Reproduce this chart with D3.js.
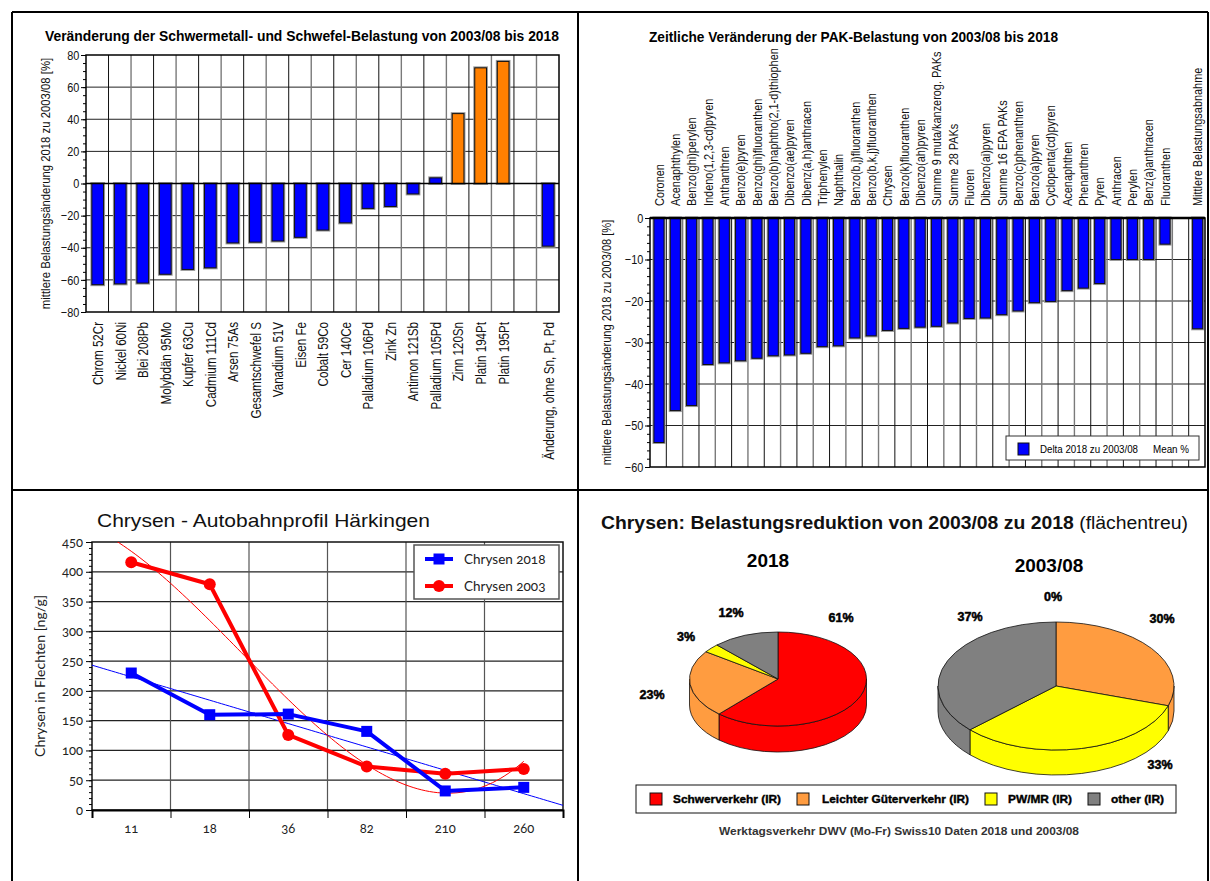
<!DOCTYPE html>
<html>
<head>
<meta charset="utf-8">
<script src="https://cdn.jsdelivr.net/npm/d3@7"></script>
<style>
  body { margin: 0; background: #fff; }
  svg { display: block; }
</style>
</head>
<body>
<div id="chart"></div>
<script>
// ---- data ----
const metalNames = ["Chrom 52Cr", "Nickel 60Ni", "Blei 208Pb", "Molybdän 95Mo", "Kupfer 63Cu",
  "Cadmium 111Cd", "Arsen 75As", "Gesamtschwefel S", "Vanadium 51V", "Eisen Fe", "Cobalt 59Co",
  "Cer 140Ce", "Palladium 106Pd", "Zink Zn", "Antimon 121Sb", "Palladium 105Pd", "Zinn 120Sn",
  "Platin 194Pt", "Platin 195Pt", "", "Änderung, ohne Sn, Pt, Pd"];
const metalValues = [-63, -62.5, -62, -56.5, -53.5, -52.5, -37, -36.5, -35.8, -33.5, -29,
  -24.5, -15.5, -14.3, -6.5, 3.5, 43.5, 72, 76, null, -39];
const metalIncrease = ["Zinn 120Sn", "Platin 194Pt", "Platin 195Pt"];
const metalTicks = [-80, -60, -40, -20, 0, 20, 40, 60, 80];

const pakNames = ["Coronen", "Acenaphthylen", "Benzo(ghi)perylen", "Indeno(1,2,3-cd)pyren",
  "Anthanthren", "Benzo(e)pyren", "Benzo(ghi)fluoranthen", "Benzo(b)naphtho(2,1-d)thiophen",
  "Dibenzo(ae)pyren", "Dibenz(a,h)anthracen", "Triphenylen", "Naphthalin",
  "Benzo(b,j)fluoranthen", "Benzo(b,k,j)fluoranthen", "Chrysen", "Benzo(k)fluoranthen",
  "Dibenzo(ah)pyren", "Summe 9 muta/kanzerog. PAKs", "Summe 28 PAKs", "Fluoren",
  "Dibenzo(ai)pyren", "Summe 16 EPA PAKs", "Benzo(c)phenanthren", "Benzo(a)pyren",
  "Cyclopenta(cd)pyren", "Acenaphthen", "Phenanthren", "Pyren", "Anthracen", "Perylen",
  "Benz(a)anthracen", "Fluoranthen", "", "Mittlere Belastungsabnahme"];
const pakValues = [-54.1, -46.4, -45.2, -35.3, -34.9, -34.4, -33.8, -33.2, -33.0, -32.6,
  -31.0, -30.8, -28.9, -28.4, -27.1, -26.6, -26.3, -26.1, -25.3, -24.2, -24.1, -23.3,
  -22.4, -20.4, -20.1, -17.5, -16.9, -15.8, -10.0, -10.0, -10.0, -6.3, null, -26.7];
const pakTicks = [-60, -50, -40, -30, -20, -10, 0];

const sites = ["11", "18", "36", "82", "210", "260"];
const chrysen2018 = [230, 160, 161, 132, 32, 38];
const chrysen2003 = [416, 379, 126, 73, 61, 69];
const chrysenTicks = [0, 50, 100, 150, 200, 250, 300, 350, 400, 450];

const trafficCats = ["Schwerverkehr (IR)", "Leichter Güterverkehr (IR)", "PW/MR (IR)", "other (IR)"];
const traffic2018 = [61, 23, 3, 12];
const traffic2003 = [0, 30, 33, 37];
const trafficColors = ["#ff0000", "#ff9c40", "#ffff00", "#808080"];

// ---- setup ----
const width = 1210, height = 881;
const SANS = '"Liberation Sans",Arial,sans-serif';
const HUM = 'Lato,"Open Sans",sans-serif';
const NX = 0.84; // horizontal squeeze to imitate Arial Narrow

let svg = d3.select('#chart')
  .append('svg')
  .attr('width', width)
  .attr('height', height)
  .style('background', 'white');

// panel frame
[[12, 12, 1208, 12], [12, 490, 1208, 490], [12, 12, 12, 881], [578, 12, 578, 881], [1208, 12, 1208, 881]]
  .forEach(l => svg.append('line')
    .attr('x1', l[0]).attr('y1', l[1]).attr('x2', l[2]).attr('y2', l[3])
    .attr('stroke', 'black').attr('stroke-width', 2));

// helper for the two category bar charts
function barPanel(opt) {
  let g = svg.append('g');
  let x = d3.scaleBand().domain(d3.range(opt.names.length)).range([opt.left, opt.right]);
  let y = d3.scaleLinear().domain(opt.domain).range([opt.bottom, opt.top]);
  let bw = x.bandwidth();

  // horizontal grid
  g.selectAll('.hg').data(opt.ticks.filter(t => t !== opt.domain[0] && t !== opt.domain[1] && t !== 0))
    .enter().append('line')
    .attr('x1', opt.left).attr('x2', opt.right)
    .attr('y1', d => y(d)).attr('y2', d => y(d))
    .attr('stroke', '#222').attr('stroke-width', 1);

  // vertical grid at category boundaries
  g.selectAll('.vg').data(d3.range(1, opt.names.length))
    .enter().append('line')
    .attr('x1', d => x(d)).attr('x2', d => x(d))
    .attr('y1', opt.top).attr('y2', opt.bottom)
    .attr('stroke', d => d % 2 ? '#111' : '#7a7a7a')
    .attr('stroke-width', d => d % 2 ? 1 : 1.4);

  let data = opt.values.map((v, i) => ({ i, v, name: opt.names[i] })).filter(d => d.v !== null);

  g.selectAll('.shadow').data(data).enter().append('rect')
    .attr('x', d => x(d.i) + bw * opt.off)
    .attr('y', d => y(Math.max(0, d.v)))
    .attr('width', bw * opt.bar)
    .attr('height', d => Math.abs(y(d.v) - y(0)))
    .attr('fill', 'none').attr('stroke', '#9a9a9a').attr('stroke-width', 3);

  g.selectAll('.bar').data(data).enter().append('rect')
    .attr('x', d => x(d.i) + bw * opt.off)
    .attr('y', d => y(Math.max(0, d.v)))
    .attr('width', bw * opt.bar)
    .attr('height', d => Math.abs(y(d.v) - y(0)))
    .attr('fill', d => opt.color(d))
    .attr('stroke', '#111').attr('stroke-width', 1);

  // zero line + frame
  g.append('line').attr('x1', opt.left).attr('x2', opt.right)
    .attr('y1', y(0)).attr('y2', y(0)).attr('stroke', 'black').attr('stroke-width', opt.zeroW);
  g.append('rect').attr('x', opt.left).attr('y', opt.top)
    .attr('width', opt.right - opt.left).attr('height', opt.bottom - opt.top)
    .attr('fill', 'none').attr('stroke', 'black').attr('stroke-width', 1.5);

  // y axis: major + minor ticks
  let ax = g.append('g').attr('transform', `translate(${opt.left},0)`)
    .call(d3.axisLeft(y).tickValues(opt.ticks).tickSize(5).tickPadding(3));
  ax.select('.domain').remove();
  ax.selectAll('text')
    .attr('transform', `scale(${NX},1)`)
    .style('font-family', SANS).style('font-size', '13px').attr('fill', '#111');
  let minor = d3.range(opt.domain[0], opt.domain[1] + 0.001, opt.minor);
  let mx = g.append('g').attr('transform', `translate(${opt.left},0)`)
    .call(d3.axisLeft(y).tickValues(minor).tickSize(3).tickFormat(''));
  mx.select('.domain').remove();

  // category labels, rotated
  g.selectAll('.cl').data(opt.names.map((n, i) => ({ n, i })).filter(d => d.n))
    .enter().append('text')
    .text(d => d.n)
    .attr('transform', d => `translate(${x(d.i) + bw / 2 + 1},${opt.labelY}) rotate(-90) scale(${NX},1)`)
    .attr('text-anchor', opt.labelAnchor)
    .attr('dy', '0.35em')
    .style('font-family', SANS).style('font-size', opt.labelSize).attr('fill', '#111');

  // y title
  g.append('text').text(opt.yTitle)
    .attr('transform', `translate(${opt.yTitleX},${(opt.top + opt.bottom) / 2}) rotate(-90) scale(${NX},1)`)
    .attr('text-anchor', 'middle').attr('dy', '0.35em')
    .style('font-family', SANS).style('font-size', opt.yTitleSize).attr('fill', '#111');

  // title
  g.append('text').text(opt.title)
    .attr('x', opt.titleX).attr('y', opt.titleY)
    .attr('text-anchor', opt.titleAnchor)
    .attr('textLength', opt.titleLen).attr('lengthAdjust', 'spacingAndGlyphs')
    .style('font-family', SANS).style('font-size', '15px').style('font-weight', 'bold');
  return { g, x, y };
}

// ---- panel 1: Schwermetalle ----
barPanel({
  names: metalNames, values: metalValues, ticks: metalTicks, domain: [-80, 80], minor: 5,
  left: 86, right: 559, top: 55, bottom: 312, bar: 0.52, off: 0.26, zeroW: 1.5,
  color: d => metalIncrease.includes(d.name) ? '#ff8000' : '#0000ff',
  labelY: 322, labelAnchor: 'end', labelSize: '13.8px',
  yTitle: 'mittlere Belastungsänderung 2018 zu 2003/08 [%]', yTitleX: 45, yTitleSize: '13.5px',
  title: 'Veränderung der Schwermetall- und Schwefel-Belastung von 2003/08 bis 2018',
  titleX: 302, titleY: 41, titleAnchor: 'middle', titleLen: 514
});

// ---- panel 2: PAK ----
barPanel({
  names: pakNames, values: pakValues, ticks: pakTicks, domain: [-60, 0], minor: 2,
  left: 650, right: 1205, top: 218, bottom: 467, bar: 0.62, off: 0.24, zeroW: 2.5,
  color: () => '#0000ff',
  labelY: 206, labelAnchor: 'start', labelSize: '13px',
  yTitle: 'mittlere Belastungsänderung 2018 zu 2003/08 [%]', yTitleX: 606, yTitleSize: '13.2px',
  title: 'Zeitliche Veränderung der PAK-Belastung von 2003/08 bis 2018',
  titleX: 649, titleY: 42, titleAnchor: 'start', titleLen: 409
});

// legend panel 2
let lg2 = svg.append('g');
lg2.append('rect').attr('x', 1006).attr('y', 436).attr('width', 193).attr('height', 24)
  .attr('fill', 'white').attr('stroke', '#333').attr('stroke-width', 1);
lg2.append('rect').attr('x', 1018).attr('y', 443).attr('width', 11).attr('height', 12)
  .attr('fill', '#0000ff').attr('stroke', '#111');
lg2.append('text').text('Delta 2018 zu 2003/08').attr('x', 1040).attr('y', 453)
  .attr('textLength', 98).attr('lengthAdjust', 'spacingAndGlyphs')
  .style('font-family', SANS).style('font-size', '11.5px');
lg2.append('text').text('Mean %').attr('x', 1153).attr('y', 453)
  .attr('textLength', 36).attr('lengthAdjust', 'spacingAndGlyphs')
  .style('font-family', SANS).style('font-size', '11.5px');

// ---- panel 3: Chrysen Autobahnprofil ----
let p3 = { left: 92, right: 563, top: 542, bottom: 810 };
let g3 = svg.append('g');
let x3 = d3.scaleBand().domain(sites).range([p3.left, p3.right]);
let xi = d3.scaleLinear().domain([0.5, sites.length + 0.5]).range([p3.left, p3.right]);
let y3 = d3.scaleLinear().domain([0, 450]).range([p3.bottom, p3.top]);

g3.selectAll('.hg').data(chrysenTicks.filter(t => t > 0 && t < 450)).enter().append('line')
  .attr('x1', p3.left).attr('x2', p3.right).attr('y1', d => y3(d)).attr('y2', d => y3(d))
  .attr('stroke', '#222').attr('stroke-width', 1.2);
g3.selectAll('.vg').data(d3.range(1, sites.length)).enter().append('line')
  .attr('x1', d => xi(d + 0.5)).attr('x2', d => xi(d + 0.5))
  .attr('y1', p3.top).attr('y2', p3.bottom)
  .attr('stroke', '#555').attr('stroke-width', 1.2);
g3.append('rect').attr('x', p3.left).attr('y', p3.top)
  .attr('width', p3.right - p3.left).attr('height', p3.bottom - p3.top)
  .attr('fill', 'none').attr('stroke', '#111').attr('stroke-width', 1.5);

let ay3 = g3.append('g').attr('transform', `translate(${p3.left},0)`)
  .call(d3.axisLeft(y3).tickValues(chrysenTicks).tickSize(6).tickPadding(3));
ay3.select('.domain').remove();
ay3.selectAll('text').style('font-family', HUM).style('font-size', '13px')
  .style('font-variant-numeric', 'oldstyle-nums').attr('fill', '#222');
let my3 = g3.append('g').attr('transform', `translate(${p3.left},0)`)
  .call(d3.axisLeft(y3).tickValues(d3.range(0, 451, 10)).tickSize(3).tickFormat(''));
my3.select('.domain').remove();

let ax3 = g3.append('g').attr('transform', `translate(0,${p3.bottom})`)
  .call(d3.axisBottom(xi).tickValues(d3.range(0.5, sites.length + 1)).tickSize(8).tickFormat(''));
ax3.select('.domain').attr('stroke-width', 2);
let axl3 = g3.append('g').attr('transform', `translate(0,${p3.bottom})`)
  .call(d3.axisBottom(x3).tickSize(0).tickPadding(14));
axl3.select('.domain').remove();
axl3.selectAll('text').style('font-family', HUM).style('font-size', '13px')
  .style('font-variant-numeric', 'oldstyle-nums').attr('fill', '#222');

g3.append('text').text('Chrysen in Flechten [ng/g]')
  .attr('transform', `translate(40,${(p3.top + p3.bottom) / 2}) rotate(-90)`)
  .attr('text-anchor', 'middle').attr('dy', '0.35em')
  .style('font-family', HUM).style('font-size', '14px').attr('fill', '#222');
g3.append('text').text('Chrysen - Autobahnprofil Härkingen')
  .attr('x', 97).attr('y', 527).attr('textLength', 333).attr('lengthAdjust', 'spacingAndGlyphs')
  .style('font-family', SANS).style('font-size', '19px').attr('fill', '#111');

// least squares polynomial fit (trend lines like the spreadsheet)
function polyfit(xs, ys, deg) {
  let n = deg + 1;
  let A = d3.range(n).map(r => d3.range(n + 1).map(c => 0));
  xs.forEach((xv, k) => {
    for (let r = 0; r < n; r++) {
      for (let c = 0; c < n; c++) A[r][c] += Math.pow(xv, r + c);
      A[r][n] += ys[k] * Math.pow(xv, r);
    }
  });
  for (let i = 0; i < n; i++) {
    let p = i;
    for (let r = i + 1; r < n; r++) if (Math.abs(A[r][i]) > Math.abs(A[p][i])) p = r;
    [A[i], A[p]] = [A[p], A[i]];
    for (let r = 0; r < n; r++) {
      if (r === i) continue;
      let f = A[r][i] / A[i][i];
      for (let c = i; c <= n; c++) A[r][c] -= f * A[i][c];
    }
  }
  let coef = A.map((row, i) => row[n] / row[i]);
  return t => coef.reduce((s, c, i) => s + c * Math.pow(t, i), 0);
}

let idx = sites.map((s, i) => i + 1);
let fit18 = polyfit(idx, chrysen2018, 1);
let fit03 = polyfit(idx, chrysen2003, 3);

svg.append('clipPath').attr('id', 'clip3').append('rect')
  .attr('x', p3.left).attr('y', p3.top).attr('width', p3.right - p3.left).attr('height', p3.bottom - p3.top);
let plot3 = g3.append('g').attr('clip-path', 'url(#clip3)');

plot3.append('path')
  .attr('d', d3.line().x(t => xi(t)).y(t => y3(fit18(t)))(d3.range(0.5, 6.51, 0.05)))
  .attr('fill', 'none').attr('stroke', '#0000ff').attr('stroke-width', 1);
plot3.append('path')
  .attr('d', d3.line().x(t => xi(t)).y(t => y3(fit03(t)))(d3.range(0.5, 6.001, 0.05)))
  .attr('fill', 'none').attr('stroke', '#ff0000').attr('stroke-width', 1);

let line3 = d3.line().x((d, i) => x3(sites[i]) + x3.bandwidth() / 2).y(d => y3(d));
plot3.append('path').attr('d', line3(chrysen2003))
  .attr('fill', 'none').attr('stroke', '#ff0000').attr('stroke-width', 4).attr('stroke-linejoin', 'round');
plot3.append('path').attr('d', line3(chrysen2018))
  .attr('fill', 'none').attr('stroke', '#0000ff').attr('stroke-width', 4).attr('stroke-linejoin', 'round');
plot3.selectAll('.m03').data(chrysen2003).enter().append('circle')
  .attr('cx', (d, i) => x3(sites[i]) + x3.bandwidth() / 2).attr('cy', d => y3(d))
  .attr('r', 6).attr('fill', '#ff0000');
plot3.selectAll('.m18').data(chrysen2018).enter().append('rect')
  .attr('x', (d, i) => x3(sites[i]) + x3.bandwidth() / 2 - 5.5).attr('y', d => y3(d) - 5.5)
  .attr('width', 11).attr('height', 11).attr('fill', '#0000ff');

// legend panel 3
let lg3 = g3.append('g');
lg3.append('rect').attr('x', 414).attr('y', 545).attr('width', 145).attr('height', 54)
  .attr('fill', 'white').attr('stroke', '#555').attr('stroke-width', 1.5);
[{ name: 'Chrysen 2018', c: '#0000ff', sq: true, y: 559 }, { name: 'Chrysen 2003', c: '#ff0000', sq: false, y: 586 }]
  .forEach(s => {
    lg3.append('line').attr('x1', 425).attr('x2', 453).attr('y1', s.y).attr('y2', s.y)
      .attr('stroke', s.c).attr('stroke-width', 4);
    if (s.sq) lg3.append('rect').attr('x', 433.5).attr('y', s.y - 5.5).attr('width', 11).attr('height', 11).attr('fill', s.c);
    else lg3.append('circle').attr('cx', 439).attr('cy', s.y).attr('r', 6).attr('fill', s.c);
    lg3.append('text').text(s.name).attr('x', 464).attr('y', s.y).attr('dy', '0.35em')
      .style('font-family', HUM).style('font-size', '13.5px')
      .style('font-variant-numeric', 'oldstyle-nums').attr('fill', '#222');
  });

// ---- panel 4: 3D pies ----
let g4 = svg.append('g');
let t4 = g4.append('text').attr('x', 601).attr('y', 529)
  .attr('textLength', 587).attr('lengthAdjust', 'spacingAndGlyphs')
  .style('font-family', SANS).style('font-size', '18px').attr('fill', '#111');
t4.append('tspan').text('Chrysen: Belastungsreduktion von 2003/08 zu 2018').style('font-weight', 'bold');
t4.append('tspan').text(' (flächentreu)');

g4.append('text').text('2018').attr('x', 768).attr('y', 567).attr('text-anchor', 'middle')
  .style('font-family', SANS).style('font-size', '19px').style('font-weight', 'bold');
g4.append('text').text('2003/08').attr('x', 1049).attr('y', 572).attr('text-anchor', 'middle')
  .style('font-family', SANS).style('font-size', '19px').style('font-weight', 'bold');

function pie3d(values, cx, cy, rx, ry, depth, labelPos) {
  let arcs = d3.pie().sort(null).value(d => d)(values);
  let pt = (a, dy) => [cx + rx * Math.sin(a), cy - ry * Math.cos(a) + (dy || 0)];
  let gp = g4.append('g');
  // visible side walls (front half)
  arcs.forEach((a, i) => {
    let s = Math.max(a.startAngle, Math.PI / 2), e = Math.min(a.endAngle, 3 * Math.PI / 2);
    if (e <= s) return;
    let lg = e - s > Math.PI ? 1 : 0;
    gp.append('path')
      .attr('d', `M${pt(s)}A${rx},${ry} 0 ${lg} 1 ${pt(e)}L${pt(e, depth)}A${rx},${ry} 0 ${lg} 0 ${pt(s, depth)}Z`)
      .attr('fill', trafficColors[i]).attr('stroke', '#111').attr('stroke-width', 0.8);
  });
  // top faces
  arcs.forEach((a, i) => {
    if (a.endAngle - a.startAngle <= 0) return;
    let lg = a.endAngle - a.startAngle > Math.PI ? 1 : 0;
    gp.append('path')
      .attr('d', `M${cx},${cy}L${pt(a.startAngle)}A${rx},${ry} 0 ${lg} 1 ${pt(a.endAngle)}Z`)
      .attr('fill', trafficColors[i]).attr('stroke', '#111').attr('stroke-width', 0.8);
  });
  values.forEach((v, i) => {
    gp.append('text').text(v + '%').attr('x', labelPos[i][0]).attr('y', labelPos[i][1])
      .attr('text-anchor', 'middle').attr('dy', '0.35em')
      .style('font-family', SANS).style('font-size', '12.5px').style('font-weight', 'bold')
      .attr('stroke', '#000').attr('stroke-width', 0.5).attr('fill', '#000');
  });
}

// label positions (layout only) in slice order
const labelPos2018 = [[841, 618], [652, 695], [686, 637], [731, 613]];
const labelPos2003 = [[1053, 597], [1162, 619], [1160, 765], [970, 617]];
pie3d(traffic2018, 778, 679, 88.5, 47, 26, labelPos2018);
pie3d(traffic2003, 1056, 686, 118, 64, 25, labelPos2003);

// legend panel 4
let lg4 = g4.append('g');
lg4.append('rect').attr('x', 636).attr('y', 785).attr('width', 540).attr('height', 28)
  .attr('fill', 'white').attr('stroke', '#111').attr('stroke-width', 1);
const legX4 = [[650, 673, 108], [797, 822, 147], [985, 1008, 64], [1088, 1111, 53]];
trafficCats.forEach((c, i) => {
  lg4.append('rect').attr('x', legX4[i][0]).attr('y', 793).attr('width', 12).attr('height', 12)
    .attr('fill', trafficColors[i]).attr('stroke', '#111');
  lg4.append('text').text(c).attr('x', legX4[i][1]).attr('y', 799).attr('dy', '0.35em')
    .attr('textLength', legX4[i][2]).attr('lengthAdjust', 'spacingAndGlyphs')
    .style('font-family', SANS).style('font-size', '11.5px').style('font-weight', 'bold')
    .attr('stroke', '#000').attr('stroke-width', 0.4);
});
g4.append('text').text('Werktagsverkehr DWV (Mo-Fr) Swiss10 Daten 2018 und 2003/08')
  .attr('x', 719).attr('y', 835).attr('textLength', 360).attr('lengthAdjust', 'spacingAndGlyphs')
  .style('font-family', SANS).style('font-size', '10.5px').style('font-weight', 'bold').attr('fill', '#333');
</script>
</body>
</html>
